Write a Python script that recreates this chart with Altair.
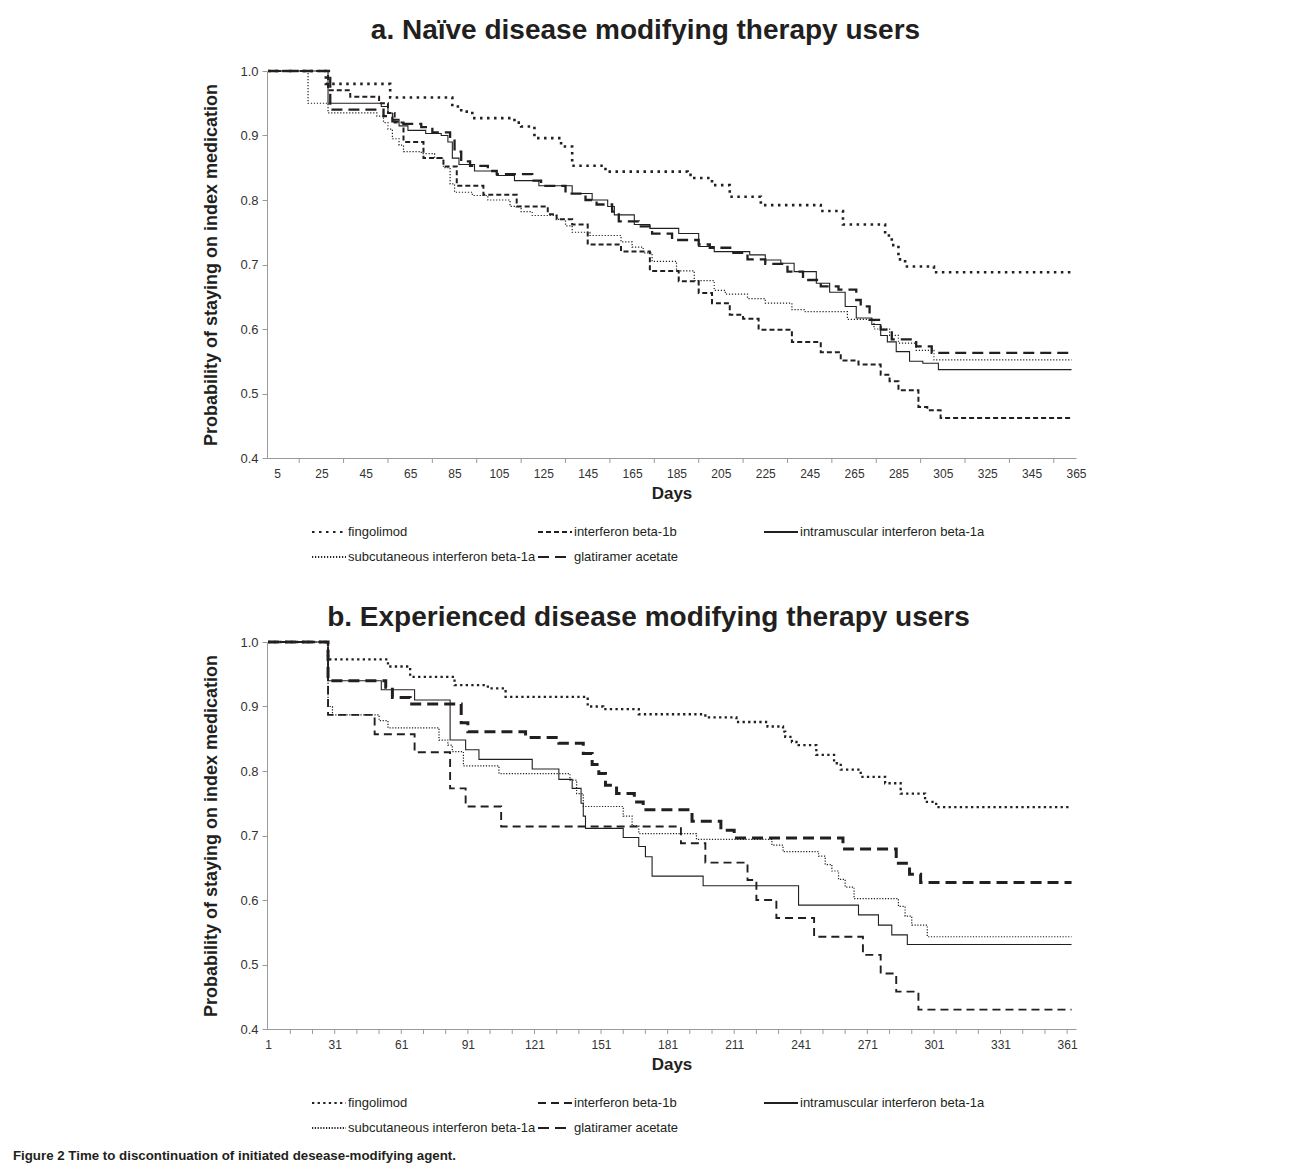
import altair as alt
import pandas as pd

FONT = "Liberation Sans, Arial, Helvetica, sans-serif"
INK = "#231f20"
AXIS_GREY = "#9a9a9a"

THERAPIES = [
    "fingolimod",
    "interferon beta-1b",
    "intramuscular interferon beta-1a",
    "subcutaneous interferon beta-1a",
    "glatiramer acetate",
]

A_TITLE = "a. Naïve disease modifying therapy users"
B_TITLE = "b. Experienced disease modifying therapy users"
Y_TITLE = "Probability of staying on index medication"
X_TITLE = "Days"
CAPTION = "Figure 2 Time to discontinuation of initiated desease-modifying agent."

Y_LABELS = [0.4, 0.5, 0.6, 0.7, 0.8, 0.9, 1.0]
A_X_LABELS = [5, 25, 45, 65, 85, 105, 125, 145, 165, 185, 205, 225, 245, 265, 285, 305, 325, 345, 365]
A_X_TICKS = [15, 35, 55, 75, 95, 115, 135, 155, 175, 195, 215, 235, 255, 275, 295, 315, 335, 355]
B_X_LABELS = [1, 31, 61, 91, 121, 151, 181, 211, 241, 271, 301, 331, 361]
B_X_TICKS = [11, 21, 31, 41, 51, 61, 71, 81, 91, 101, 111, 121, 131, 141, 151, 161, 171, 181,
             191, 201, 211, 221, 231, 241, 251, 261, 271, 281, 291, 301, 311, 321, 331, 341, 351, 361]

# ---- panel a: naive users (step points: day, probability) ----
A_FINGO_DAY = [1, 27, 56, 84, 88, 93, 112, 115, 121, 133, 138, 153, 190, 193, 201, 209, 223, 250,
               260, 279, 282, 285, 288, 301, 363]
A_FINGO_VAL = [1.0, 0.98, 0.959, 0.945, 0.937, 0.927, 0.92, 0.914, 0.896, 0.883, 0.853, 0.844,
               0.839, 0.834, 0.823, 0.805, 0.792, 0.783, 0.762, 0.745, 0.73, 0.708, 0.697, 0.688, 0.688]

A_IFN_DAY = [1, 28, 38, 51, 55, 58, 62, 71, 80, 86, 98, 113, 127, 131, 138, 145, 160, 173, 186,
             195, 201, 209, 215, 222, 237, 250, 259, 267, 277, 281, 285, 294, 298, 304, 363]
A_IFN_VAL = [1.0, 0.97, 0.96, 0.95, 0.935, 0.92, 0.89, 0.865, 0.852, 0.822, 0.808, 0.79, 0.778,
             0.77, 0.762, 0.731, 0.72, 0.69, 0.674, 0.656, 0.64, 0.622, 0.616, 0.599, 0.58, 0.564,
             0.551, 0.545, 0.529, 0.519, 0.505, 0.479, 0.474, 0.462, 0.462]

A_IM_DAY = [1, 28, 52, 55, 57, 60, 64, 72, 79, 82, 84, 87, 94, 104, 112, 123, 138, 147, 154, 157,
            166, 173, 186, 195, 202, 218, 225, 232, 238, 248, 254, 261, 266, 273, 277, 280, 284,
            290, 296, 303, 363]
A_IM_VAL = [1.0, 0.95, 0.945, 0.935, 0.925, 0.915, 0.908, 0.903, 0.9, 0.89, 0.865, 0.855, 0.845,
            0.838, 0.83, 0.822, 0.81, 0.8, 0.79, 0.777, 0.762, 0.756, 0.748, 0.728, 0.72, 0.715,
            0.707, 0.702, 0.689, 0.671, 0.657, 0.635, 0.617, 0.607, 0.59, 0.58, 0.565, 0.55, 0.547,
            0.537, 0.537]

A_SC_DAY = [1, 19, 28, 50, 53, 55, 57, 60, 62, 70, 76, 80, 83, 85, 93, 100, 110, 115, 120, 131,
            135, 138, 146, 160, 165, 170, 174, 185, 193, 202, 207, 217, 225, 237, 243, 262, 274,
            281, 285, 293, 301, 363]
A_SC_VAL = [1.0, 0.95, 0.935, 0.93, 0.92, 0.91, 0.895, 0.885, 0.875, 0.872, 0.865, 0.85, 0.825,
            0.812, 0.807, 0.8, 0.79, 0.782, 0.776, 0.77, 0.76, 0.75, 0.745, 0.735, 0.727, 0.718,
            0.705, 0.69, 0.675, 0.66, 0.654, 0.647, 0.64, 0.63, 0.627, 0.615, 0.6, 0.59, 0.578,
            0.567, 0.552, 0.552]

A_GA_DAY = [1, 29, 53, 57, 62, 70, 75, 83, 85, 88, 92, 100, 104, 120, 124, 135, 144, 149, 156,
            159, 168, 174, 183, 195, 200, 210, 217, 225, 235, 242, 250, 258, 266, 268, 272, 277,
            282, 293, 300, 363]
A_GA_VAL = [1.0, 0.94, 0.93, 0.922, 0.918, 0.913, 0.905, 0.895, 0.875, 0.86, 0.853, 0.845, 0.84,
            0.83, 0.822, 0.81, 0.8, 0.793, 0.782, 0.767, 0.759, 0.748, 0.738, 0.731, 0.726, 0.718,
            0.708, 0.701, 0.689, 0.676, 0.666, 0.661, 0.645, 0.635, 0.614, 0.599, 0.584, 0.573,
            0.563, 0.563]

# ---- panel b: experienced users ----
B_FINGO_DAY = [1, 28, 55, 65, 85, 100, 108, 145, 152, 168, 198, 212, 226, 233, 234, 237, 240, 248,
               256, 259, 268, 279, 286, 297, 302, 363]
B_FINGO_VAL = [1.0, 0.973, 0.962, 0.946, 0.933, 0.928, 0.915, 0.9, 0.896, 0.888, 0.883, 0.876,
               0.869, 0.861, 0.853, 0.845, 0.84, 0.825, 0.812, 0.802, 0.791, 0.781, 0.765, 0.752,
               0.744, 0.744]

B_IFN_DAY = [1, 28, 49, 67, 83, 90, 106, 187, 198, 217, 221, 230, 247, 269, 277, 284, 294, 363]
B_IFN_VAL = [1.0, 0.887, 0.857, 0.829, 0.773, 0.745, 0.714, 0.688, 0.658, 0.631, 0.6, 0.572,
             0.543, 0.515, 0.486, 0.458, 0.43, 0.43]

B_IM_DAY = [1, 28, 52, 67, 83, 90, 96, 120, 132, 138, 142, 143, 144, 161, 168, 171, 174, 197, 240,
            267, 276, 282, 289, 363]
B_IM_VAL = [1.0, 0.94, 0.926, 0.91, 0.848, 0.833, 0.818, 0.803, 0.787, 0.773, 0.75, 0.73, 0.711,
            0.697, 0.683, 0.667, 0.637, 0.622, 0.592, 0.577, 0.561, 0.546, 0.531, 0.531]

B_SC_DAY = [1, 28, 30, 51, 55, 78, 82, 84, 89, 105, 137, 140, 143, 161, 165, 168, 194, 228, 233,
            249, 252, 255, 258, 261, 265, 285, 288, 291, 298, 363]
B_SC_VAL = [1.0, 0.9, 0.887, 0.878, 0.867, 0.848, 0.84, 0.83, 0.808, 0.796, 0.786, 0.765, 0.745,
            0.73, 0.715, 0.703, 0.694, 0.685, 0.675, 0.668, 0.655, 0.645, 0.632, 0.62, 0.602, 0.59,
            0.575, 0.561, 0.543, 0.543]

B_GA_DAY = [1, 28, 54, 57, 65, 88, 91, 117, 132, 143, 147, 150, 153, 158, 166, 170, 192, 205, 211,
            260, 284, 290, 295, 363]
B_GA_VAL = [1.0, 0.94, 0.93, 0.914, 0.904, 0.875, 0.861, 0.852, 0.843, 0.827, 0.81, 0.796, 0.778,
            0.765, 0.752, 0.74, 0.722, 0.708, 0.696, 0.679, 0.657, 0.64, 0.627, 0.627]

# ---- styles ----
A_DASH = [[2.5, 4.5], [5, 3], [1, 0], [1.2, 1.8], [11, 6]]
A_WIDTH = [2.6, 2.0, 1.1, 1.2, 2.3]
B_DASH = [[2.3, 3.3], [8, 5], [1, 0], [1.2, 1.6], [11, 6]]
B_WIDTH = [2.3, 1.9, 1.1, 1.2, 3.0]

PLOT_W = 809
PLOT_H = 387


def frame(series):
    rows = []
    for name, days, vals in series:
        for d, v in zip(days, vals):
            rows.append({"therapy": name, "day": d, "p": v})
    return pd.DataFrame(rows)


def width_expr(widths):
    expr = str(widths[-1])
    for name, w in reversed(list(zip(THERAPIES[:-1], widths[:-1]))):
        expr = f"datum.therapy === '{name}' ? {w} : ({expr})"
    return expr


def panel(df, title, title_dx, title_offset, labels, ticks, dashes, widths):
    x_scale = alt.Scale(domain=[0.5, 365], nice=False, zero=False)
    y_scale = alt.Scale(domain=[0.4, 1.0], nice=False, zero=False)
    legend = alt.Legend(
        title=None, orient="none", legendX=44, legendY=443, columns=3, direction="horizontal",
        symbolType="stroke", symbolSize=1156, symbolStrokeColor=INK, symbolStrokeWidth=1.8,
        labelFontSize=13, labelFont=FONT, labelColor=INK, labelOffset=1,
        columnPadding=-2, rowPadding=-17, gridAlign="all", labelLimit=400, padding=0,
    )
    lines = alt.Chart(df).mark_line(interpolate="step-after", color=INK).transform_calculate(
        w=width_expr(widths)
    ).encode(
        x=alt.X("day:Q", scale=x_scale, title=X_TITLE, axis=alt.Axis(
            values=labels, ticks=False, tickSize=0, labelPadding=10, labelFontSize=12,
            labelColor="#333333", labelFont=FONT, domainColor=AXIS_GREY, grid=False,
            labelFlush=False, title=X_TITLE, titleFontSize=17, titleFontWeight="bold",
            titleColor=INK, titleFont=FONT, titlePadding=6)),
        y=alt.Y("p:Q", scale=y_scale, title=Y_TITLE, axis=alt.Axis(
            values=Y_LABELS, format=".1f", tickSize=5, tickColor=AXIS_GREY, domainColor=AXIS_GREY,
            labelFontSize=13, labelColor="#333333", labelFont=FONT, labelPadding=4, grid=False,
            title=Y_TITLE, titleFontSize=18, titleFontWeight="bold", titleColor=INK,
            titleFont=FONT, titlePadding=19)),
        strokeDash=alt.StrokeDash("therapy:N", scale=alt.Scale(domain=THERAPIES, range=dashes),
                                  legend=legend),
        strokeWidth=alt.StrokeWidth("w:Q", scale=None, legend=None),
    )
    tick_marks = alt.Chart(pd.DataFrame({"day": ticks})).mark_rule(
        color=AXIS_GREY, strokeWidth=1
    ).encode(
        x=alt.X("day:Q", scale=x_scale, title=X_TITLE),
        y=alt.value(PLOT_H),
        y2=alt.value(PLOT_H + 5),
    )
    return alt.layer(lines, tick_marks).properties(
        width=PLOT_W, height=PLOT_H,
        title=alt.TitleParams(title, fontSize=28, fontWeight="bold", font=FONT, color=INK,
                              anchor="middle", dx=title_dx, offset=title_offset),
    )


df_a = frame([
    (THERAPIES[0], A_FINGO_DAY, A_FINGO_VAL),
    (THERAPIES[1], A_IFN_DAY, A_IFN_VAL),
    (THERAPIES[2], A_IM_DAY, A_IM_VAL),
    (THERAPIES[3], A_SC_DAY, A_SC_VAL),
    (THERAPIES[4], A_GA_DAY, A_GA_VAL),
])
df_b = frame([
    (THERAPIES[0], B_FINGO_DAY, B_FINGO_VAL),
    (THERAPIES[1], B_IFN_DAY, B_IFN_VAL),
    (THERAPIES[2], B_IM_DAY, B_IM_VAL),
    (THERAPIES[3], B_SC_DAY, B_SC_VAL),
    (THERAPIES[4], B_GA_DAY, B_GA_VAL),
])

panel_a = panel(df_a, A_TITLE, -26, 20, A_X_LABELS, A_X_TICKS, A_DASH, A_WIDTH)
panel_b = panel(df_b, B_TITLE, -23, 4, B_X_LABELS, B_X_TICKS, B_DASH, B_WIDTH)

chart = alt.vconcat(panel_a, panel_b, spacing=40).resolve_scale(
    strokeDash="independent"
).resolve_legend(
    strokeDash="independent"
).properties(
    title=alt.TitleParams(CAPTION, orient="bottom", anchor="start", fontSize=13.3,
                          fontWeight="bold", font=FONT, color=INK, dx=-190, offset=14),
    padding={"left": 4, "top": 9, "right": 10, "bottom": 5},
    background="white",
).configure_view(stroke=None)

chart.save("out.html", embed_options={"renderer": "svg", "actions": False})
